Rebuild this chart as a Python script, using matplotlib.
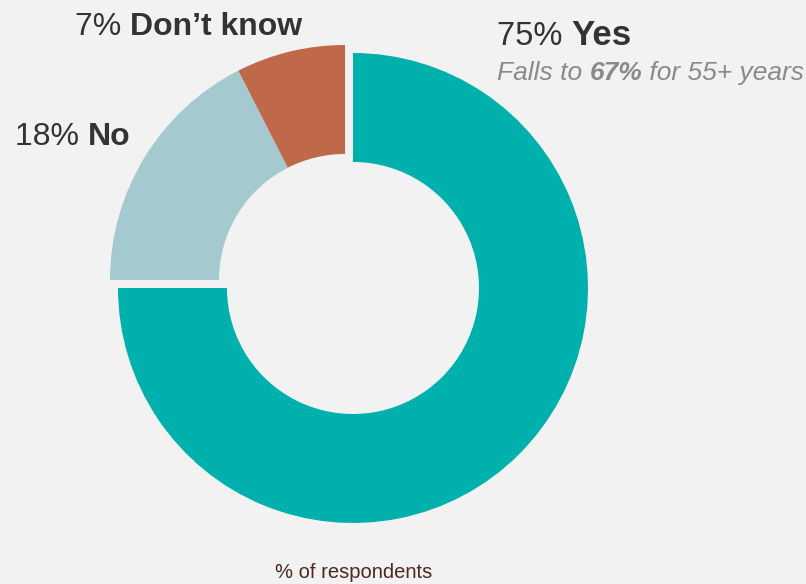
import matplotlib.pyplot as plt

plt.rcParams["font.family"] = ["Liberation Sans", "DejaVu Sans"]

# data
answers = ["Yes", "No", "Don\u2019t know"]
shares = [75, 17.5, 7.5]          # slice sizes as read from the ring
share_labels = ["75%", "18%", "7%"]
colors = ["#00B0AD", "#A4C9CE", "#C0694A"]
note_value = "67%"

bg = "#F2F2F2"
dark = "#333333"
grey = "#8A8A8A"

fig = plt.figure(figsize=(8.06, 5.84), dpi=100, facecolor=bg)
ax = fig.add_axes([0, 0, 1, 1])
ax.set_facecolor(bg)

# yes slice pushed out a little toward bottom right
ax.pie(shares, colors=colors, startangle=90, counterclock=False,
       explode=[11.3, 0, 0], radius=235, center=(345, 304),
       wedgeprops=dict(width=109, linewidth=0))
ax.set_xlim(0, 806)
ax.set_ylim(0, 584)
ax.set_aspect("equal")
ax.axis("off")


def label(x, y, parts, color=dark, style="normal"):
    """parts: list of (text, size, weight) written one after the other"""
    prev = None
    for txt, size, weight in parts:
        if prev is None:
            prev = ax.text(x, y, txt, fontsize=size, fontweight=weight,
                           color=color, style=style, ha="left", va="baseline")
        else:
            prev = ax.annotate(txt, xy=(1, 0), xycoords=prev, fontsize=size,
                               fontweight=weight, color=color, style=style,
                               ha="left", va="bottom")
    return prev


label(497, 584 - 45, [(share_labels[0] + " ", 23.5, "normal"), (answers[0], 25, "bold")])
label(497, 584 - 80, [("Falls to ", 19, "normal"), (note_value, 19, "bold"),
                      (" for 55+ years", 19, "normal")], color=grey, style="italic")
label(75, 584 - 35, [(share_labels[2] + " ", 23, "normal"), (answers[2], 23, "bold")])
label(15, 584 - 145, [(share_labels[1] + " ", 23, "normal"), (answers[1], 23, "bold")])

ax.text(354, 584 - 578, "% of respondents", fontsize=14.5, color="#4A2A20",
        ha="center", va="baseline")

fig.savefig("out.png", dpi=100, facecolor=bg)
